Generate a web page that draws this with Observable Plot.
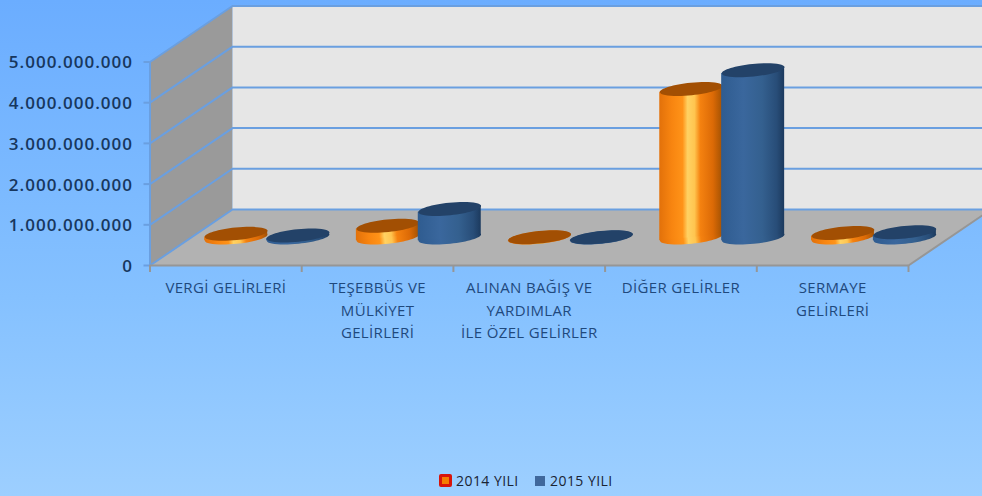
<!DOCTYPE html>
<html lang="tr">
<head>
<meta charset="utf-8">
<script src="https://cdn.jsdelivr.net/npm/d3@7"></script>
<script src="https://cdn.jsdelivr.net/npm/@observablehq/plot@0.6"></script>
<style>
  html, body { margin: 0; padding: 0; width: 982px; height: 496px; overflow: hidden; }
  body { background: linear-gradient(180deg, #6badff 0%, #85c1ff 60%, #9dcfff 100%); }
  svg { display: block; background: transparent !important; }
  g[font-size="17"] { letter-spacing: 1px; }
  g[font-size="15"] { letter-spacing: 0.35px; }
  #legend { height: 30px; position: relative; font: 14px "Open Sans", sans-serif; color: #1a2433; letter-spacing: 0.45px; }
  #legend span { position: absolute; top: 6px; line-height: 18px; white-space: nowrap; }
  #legend i { position: absolute; display: block; box-sizing: border-box; }
</style>
</head>
<body>
<div id="chart"></div>
<div id="legend"></div>
<script>
const categories = ["VERGİ GELİRLERİ", "TEŞEBBÜS VE\nMÜLKİYET\nGELİRLERİ", "ALINAN BAĞIŞ VE\nYARDIMLAR\nİLE ÖZEL GELİRLER", "DİĞER GELİRLER", "SERMAYE\nGELİRLERİ"];
const values2014 = [90000000, 290000000, 5000000, 3650000000, 110000000];
const values2015 = [50000000, 700000000, 5000000, 4110000000, 130000000];
const seriesNames = ["2014 YILI", "2015 YILI"];
const yTicks = [0, 1000000000, 2000000000, 3000000000, 4000000000, 5000000000];

const W = 982, H = 466;
const depthX = 0.544;        // depth of the box, in category units
const depthY = 1376000000;   // depth of the box, in value units
const nCat = categories.length;
const maxV = 5000000000;
const at = (c, v, d = 0) => ({x: c + d * depthX, y: v + d * depthY});

const fmt = d3.formatLocale({decimal: ",", thousands: ".", grouping: [3], currency: ["", ""]}).format(",");

// Box
const leftWall = [at(0, 0), at(0, maxV), at(0, maxV, 1), at(0, 0, 1), at(0, 0)];
const backWall = [at(0, 0, 1), at(0, maxV, 1), at(nCat, maxV, 1), at(nCat, 0, 1), at(0, 0, 1)];
const floor = [at(0, 0), at(nCat, 0), at(nCat, 0, 1), at(0, 0, 1), at(0, 0)];
const grid = yTicks.flatMap((v) => [at(0, v), at(0, v, 1), at(nCat, v, 1)].map((p) => ({...p, v})));

// Cylinders
const off = 0.204, half = 0.2076, tilt = 80000000;
const fills = [
  {body: "url(#cyl-orange)", top: "#a24f03"},
  {body: "url(#cyl-blue)", top: "#234268"}
];
const ellipse = {
  draw(ctx, size) {
    const rx = Math.sqrt(size / Math.PI), ry = rx * 0.2, k = 0.5523;
    ctx.moveTo(-rx, 0);
    ctx.bezierCurveTo(-rx, -k * ry, -k * rx, -ry, 0, -ry);
    ctx.bezierCurveTo(k * rx, -ry, rx, -k * ry, rx, 0);
    ctx.bezierCurveTo(rx, k * ry, k * rx, ry, 0, ry);
    ctx.bezierCurveTo(-k * rx, ry, -rx, k * ry, -rx, 0);
    ctx.closePath();
  }
};
const cylMarks = [values2014, values2015].flatMap((vals, s) => {
  const sign = s === 0 ? -1 : 1;
  const tops = vals.map((v, i) => ({cx: i + 0.5 + sign * off, v}));
  const body = tops.flatMap((t, i) => [-1, 1].map((e) => ({
    bar: i,
    x: t.cx + e * half + 0.5 * depthX,
    y1: 0.5 * depthY + e * tilt,
    y2: t.v + 0.5 * depthY + e * tilt
  })));
  const baseDots = tops.map((t) => at(t.cx, 0, 0.5));
  const topDots = tops.map((t) => at(t.cx, t.v, 0.5));
  return [
    Plot.dot(baseDots, {x: "x", y: "y", r: 31.5, symbol: ellipse, rotate: -5.8, fill: fills[s].body, stroke: "none"}),
    Plot.areaY(body, {x: "x", y1: "y1", y2: "y2", z: "bar", fill: fills[s].body}),
    Plot.dot(topDots, {x: "x", y: "y", r: 31.5, symbol: ellipse, rotate: -5.8, fill: fills[s].top, stroke: "none"})
  ];
});

const defs = () => d3.create("svg:defs").html(`
  <linearGradient id="cyl-orange" x1="0" x2="1" y1="0" y2="0">
    <stop offset="0" stop-color="#e2710a"/><stop offset="0.2" stop-color="#f88510"/>
    <stop offset="0.37" stop-color="#ff9318"/><stop offset="0.45" stop-color="#ffd263"/>
    <stop offset="0.56" stop-color="#ffc550"/><stop offset="0.65" stop-color="#f58210"/>
    <stop offset="0.85" stop-color="#dc6a06"/><stop offset="1" stop-color="#a35203"/>
  </linearGradient>
  <linearGradient id="cyl-blue" x1="0" x2="1" y1="0" y2="0">
    <stop offset="0" stop-color="#2f5c90"/><stop offset="0.35" stop-color="#3a679d"/>
    <stop offset="0.65" stop-color="#34608f"/><stop offset="0.88" stop-color="#284d78"/>
    <stop offset="1" stop-color="#1c3a5e"/>
  </linearGradient>`).node();

const labels = categories.map((c, i) => ({x: i + 0.5, y: 0, c}));

const chart = Plot.plot({
  width: W, height: H,
  marginLeft: 149.5, marginRight: 74, marginTop: 61.5, marginBottom: H - 265,
  x: {type: "linear", domain: [0, nCat], axis: null},
  y: {type: "linear", domain: [0, maxV], axis: null},
  marks: [
    defs,
    Plot.line(leftWall, {x: "x", y: "y", fill: "#9a9a9a", stroke: "none"}),
    Plot.line(backWall, {x: "x", y: "y", fill: "#e6e6e6", stroke: "none"}),
    Plot.line(floor, {x: "x", y: "y", fill: "#b2b2b2", stroke: "none"}),
    Plot.line(grid, {x: "x", y: "y", z: "v", stroke: "#6a9fe0", strokeWidth: 2}),
    Plot.line([at(nCat, 0), at(nCat, 0, 1)], {x: "x", y: "y", stroke: "#969696", strokeWidth: 2}),
    Plot.ruleX([0], {y1: 0, y2: maxV, stroke: "#6a9fe0", strokeWidth: 2}),
    Plot.ruleY([0], {x1: 0, x2: nCat, stroke: "#969696", strokeWidth: 2}),
    ...cylMarks,
    Plot.axisY({ticks: yTicks, tickFormat: () => "", tickSize: 6, stroke: "#6a9fe0", strokeWidth: 2, label: null}),
    Plot.axisX({ticks: d3.range(nCat + 1), tickFormat: () => "", tickSize: 7, stroke: "#969696", strokeWidth: 2, label: null}),
    Plot.text(yTicks, {x: 0, y: (d) => d, text: fmt, dx: -17, dy: 1, textAnchor: "end", fontSize: 17, fontFamily: "Open Sans", fontWeight: 600, fill: "#17375e"}),
    Plot.text(labels, {x: "x", y: "y", text: "c", dy: 12, lineAnchor: "top", lineHeight: 1.5,
      fontSize: 15, fontFamily: "Open Sans", fill: "#1f497d"})
  ]
});
document.getElementById("chart").append(chart);

// Legend
const lg = document.getElementById("legend");
lg.innerHTML = `
  <i style="left:439px;top:8px;width:13px;height:13px;border-radius:2px;background:#f57c00;border:3px solid #d8140a"></i>
  <span style="left:456px">${seriesNames[0]}</span>
  <i style="left:535px;top:10px;width:10px;height:10px;background:#40689c"></i>
  <span style="left:550px">${seriesNames[1]}</span>`;
</script>
</body>
</html>
